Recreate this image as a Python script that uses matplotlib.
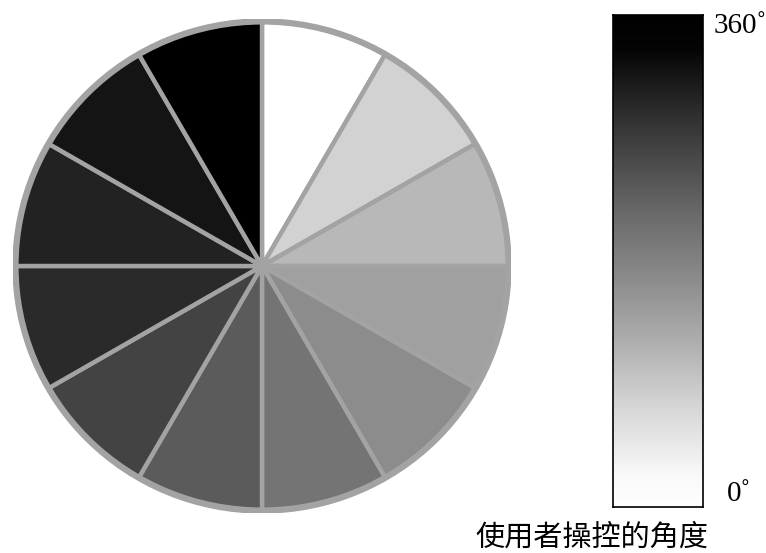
import numpy as np
import matplotlib
matplotlib.use("Agg")
import matplotlib.pyplot as plt
from matplotlib.colors import LinearSegmentedColormap

# 12 equal slices, clockwise from 12 o'clock, gray level 0-255
slice_sizes = [1] * 12
slice_grays = [255, 210, 184, 160, 140, 116, 91, 67, 42, 34, 20, 0]

# colour bar: position along bar (0 = bottom) and gray level
bar_stops = [0.0, 0.06, 0.2, 0.35, 0.5, 0.6, 0.72, 0.86, 0.93, 1.0]
bar_grays = [255, 250, 215, 170, 130, 105, 70, 28, 5, 0]

tick_top = "360˚"
tick_bottom = "0˚"
bar_label = "使用者操控的角度"

ring_color = "#a3a3a3"
W, H = 766, 553


def box(left, top, right, bottom):
    # pixel box (from top-left) -> figure fraction rect
    return [left / W, 1 - bottom / H, (right - left) / W, (bottom - top) / H]


fig = plt.figure(figsize=(W / 100, H / 100), dpi=100)
fig.patch.set_facecolor("white")

ax = fig.add_axes(box(13, 19, 511, 513))
colors = [(g / 255, g / 255, g / 255) for g in slice_grays]
ax.pie(
    slice_sizes,
    colors=colors,
    startangle=90,
    counterclock=False,
    radius=1.0,
    wedgeprops=dict(edgecolor=ring_color, linewidth=3.2),
)
ring = plt.Circle((0, 0), 1.0, fill=False, edgecolor=ring_color, linewidth=4.5)
ax.add_patch(ring)
dot = plt.Circle((0, 0), 0.035, color=ring_color, zorder=5)
ax.add_patch(dot)
ax.set_aspect("auto")
ax.set_xlim(-1.01, 1.01)
ax.set_ylim(-1.01, 1.01)
ax.axis("off")

# gradient bar
cmap = LinearSegmentedColormap.from_list(
    "bar", [(p, (g / 255, g / 255, g / 255)) for p, g in zip(bar_stops, bar_grays)]
)
cax = fig.add_axes(box(613, 15, 703, 507))
grad = np.linspace(0, 1, 512).reshape(-1, 1)
cax.imshow(grad, cmap=cmap, aspect="auto", origin="lower", extent=[0, 1, 0, 1])
cax.set_xticks([])
cax.set_yticks([])
for spine in cax.spines.values():
    spine.set_color("black")
    spine.set_linewidth(1.2)

serif = ["Liberation Serif", "DejaVu Serif"]
fig.text(714 / W, 1 - 26 / H, tick_top, family=serif, fontsize=21,
         ha="left", va="center")
fig.text(727 / W, 1 - 494 / H, tick_bottom, family=serif, fontsize=21,
         ha="left", va="center")
fig.text(592 / W, 1 - 538 / H, bar_label,
         family=["Noto Sans CJK TC", "DejaVu Sans"], fontsize=21,
         ha="center", va="center")

fig.savefig("out.png", dpi=100, facecolor=fig.get_facecolor())
